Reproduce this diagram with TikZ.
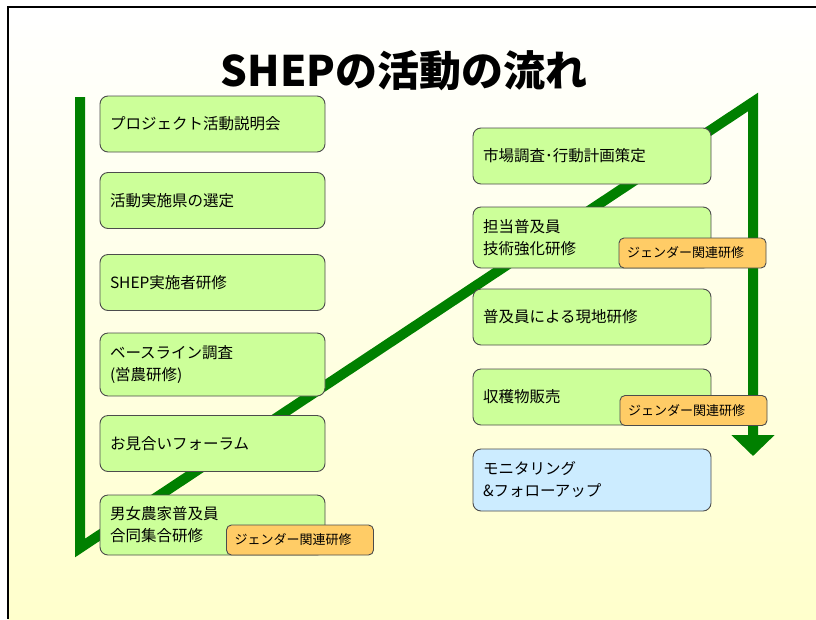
\documentclass[tikz,border=0pt]{standalone}
\usepackage{fontspec}
\setmainfont{Noto Sans CJK JP}
\usetikzlibrary{arrows.meta}
\definecolor{flowgreen}{RGB}{0,128,0}
\definecolor{actfill}{RGB}{204,255,153}
\definecolor{genfill}{RGB}{255,204,102}
\definecolor{monfill}{RGB}{204,236,255}
\definecolor{slideyellow}{RGB}{255,255,204}
\begin{document}
\begin{tikzpicture}[x=1pt, y=-1pt,
    activity/.style={rectangle, rounded corners=8pt, draw=black!70, line width=0.9pt, fill=actfill, text width=205pt, align=left, inner xsep=10pt, minimum height=56pt, font=\fontsize{15.5}{22}\selectfont},
    widebox/.style={activity, text width=218pt},
    monitor/.style={widebox, fill=monfill},
    gender/.style={rectangle, rounded corners=5pt, draw=black!70, line width=0.9pt, fill=genfill, text width=131pt, align=left, inner xsep=8pt, minimum height=30pt, font=\fontsize{13}{15}\selectfont},
    flow/.style={draw=flowgreen, line width=10pt, line join=miter, -{Triangle[width=42pt, length=21pt]}}
]
    \useasboundingbox (0,0) rectangle (816,619);
    \shade[top color=white, bottom color=slideyellow] (8,7) rectangle (816,619);
    \draw[line width=2pt] (8,619) -- (8,7) -- (816,7);

    \node[font=\fontsize{42}{48}\selectfont\bfseries] (title) at (404,71) {SHEPの活動の流れ};

    % green flow line behind the boxes
    \coordinate (flowtop) at (80,97);
    \coordinate (flowlow) at (80,548);
    \coordinate (flowpeak) at (753,102);
    \coordinate (flowend) at (753,456);
    \draw[flow] (flowtop) -- (flowlow) -- (flowpeak) -- (flowend);

    \node[activity] (act1) at (212.5,124) {プロジェクト活動説明会};
    \node[activity] (act2) at (212.5,200.5) {活動実施県の選定};
    \node[activity] (act3) at (212.5,282.5) {SHEP実施者研修};
    \node[activity, minimum height=63pt] (act4) at (212.5,364.5) {ベースライン調査\\(営農研修)};
    \node[activity] (act5) at (212.5,443.5) {お見合いフォーラム};
    \node[activity, minimum height=60pt] (act6) at (212.5,525) {男女農家普及員\\合同集合研修};

    \node[widebox] (act7) at (592,156) {市場調査･行動計画策定};
    \node[widebox, minimum height=61pt] (act8) at (592,237.5) {担当普及員\\技術強化研修};
    \node[widebox] (act9) at (592,317) {普及員による現地研修};
    \node[widebox] (act10) at (592,397) {収穫物販売};
    \node[monitor, minimum height=62pt] (act11) at (592,480) {モニタリング\\\&フォローアップ};

    \node[gender] (gen1) at (300,540) {ジェンダー関連研修};
    \node[gender] (gen2) at (692.5,253) {ジェンダー関連研修};
    \node[gender] (gen3) at (693.5,410.5) {ジェンダー関連研修};
\end{tikzpicture}
\end{document}
